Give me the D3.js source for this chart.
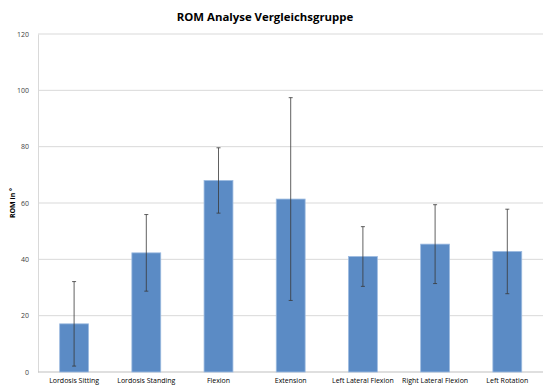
<!DOCTYPE html>
<html>
<head>
<meta charset="utf-8">
<script src="https://cdn.jsdelivr.net/npm/d3@7"></script>
<style>
  html, body { margin: 0; padding: 0; background: #fff; }
  svg { display: block; font-family: "Open Sans", "Liberation Sans", sans-serif; }
</style>
</head>
<body>
<svg id="chart" width="543" height="385"></svg>
<script>
// Range of motion, comparison group: mean and standard deviation per movement
const categories = ["Lordosis Sitting", "Lordosis Standing", "Flexion", "Extension",
                    "Left Lateral Flexion", "Right Lateral Flexion", "Left Rotation"];
const means = [17.1, 42.3, 68.0, 61.4, 41.0, 45.4, 42.8];
const stdDevs = [15.0, 13.6, 11.6, 36.0, 10.6, 14.0, 15.0];
const yTicks = [0, 20, 40, 60, 80, 100, 120];

const W = 543, H = 385;
const margin = { left: 38, top: 34, bottom: 13 };
const svg = d3.select("#chart");

const x = d3.scaleBand()
  .domain(categories)
  .range([margin.left, margin.left + 72.2 * categories.length])
  .paddingInner(0.6)
  .paddingOuter(0.3);

const y = d3.scaleLinear().domain([0, 120]).range([H - margin.bottom, margin.top]);

// Title
svg.append("text")
  .attr("x", 265).attr("y", 21)
  .attr("text-anchor", "middle")
  .attr("font-size", 11.4).attr("font-weight", "bold")
  .attr("fill", "#000")
  .text("ROM Analyse Vergleichsgruppe");

// Horizontal gridlines
svg.append("g").selectAll("line")
  .data(yTicks.filter(t => t > 0))
  .join("line")
  .attr("x1", margin.left).attr("x2", W)
  .attr("y1", d => y(d)).attr("y2", d => y(d))
  .attr("stroke", "#d9d9d9").attr("stroke-width", 1);

// Y axis
const yAxis = svg.append("g")
  .attr("transform", `translate(${margin.left},0)`)
  .call(d3.axisLeft(y).tickValues(yTicks).tickSize(0).tickPadding(9));
yAxis.select(".domain").attr("stroke", "#d9d9d9");
yAxis.selectAll("text").attr("font-size", 7).attr("fill", "#404040")
  .attr("font-family", "'Open Sans', 'Liberation Sans', sans-serif");

// Y axis title
svg.append("text")
  .attr("transform", `translate(15,${(y(0) + y(120)) / 2}) rotate(-90)`)
  .attr("text-anchor", "middle")
  .attr("font-size", 7).attr("font-weight", "bold")
  .attr("fill", "#000")
  .text("ROM in °");

// X axis
const xAxis = svg.append("g")
  .attr("transform", `translate(0,${y(0)})`)
  .call(d3.axisBottom(x).tickSize(0).tickPadding(6));
xAxis.select(".domain").remove();
xAxis.selectAll("text").attr("font-size", 7).attr("fill", "#000")
  .attr("font-family", "'Open Sans', 'Liberation Sans', sans-serif");
svg.append("line")
  .attr("x1", margin.left).attr("x2", W)
  .attr("y1", y(0)).attr("y2", y(0))
  .attr("stroke", "#bfbfbf").attr("stroke-width", 1);

// Bars
svg.append("g").selectAll("rect")
  .data(categories)
  .join("rect")
  .attr("x", d => x(d))
  .attr("width", x.bandwidth())
  .attr("y", (d, i) => y(means[i]))
  .attr("height", (d, i) => y(0) - y(means[i]))
  .attr("fill", "#5b8bc5")
  .attr("stroke", "#9dbbe0").attr("stroke-width", 0.8);

// Error bars (mean ± SD)
const err = svg.append("g").attr("stroke", "#3a3a3a").attr("stroke-width", 1).attr("stroke-opacity", 0.8);
categories.forEach((c, i) => {
  const cx = x(c) + x.bandwidth() / 2;
  const hi = y(means[i] + stdDevs[i]);
  const lo = y(Math.max(0, means[i] - stdDevs[i]));
  err.append("line").attr("x1", cx).attr("x2", cx).attr("y1", hi).attr("y2", lo);
  err.append("line").attr("x1", cx - 2).attr("x2", cx + 2).attr("y1", hi).attr("y2", hi);
  err.append("line").attr("x1", cx - 2).attr("x2", cx + 2).attr("y1", lo).attr("y2", lo);
});
</script>
</body>
</html>
